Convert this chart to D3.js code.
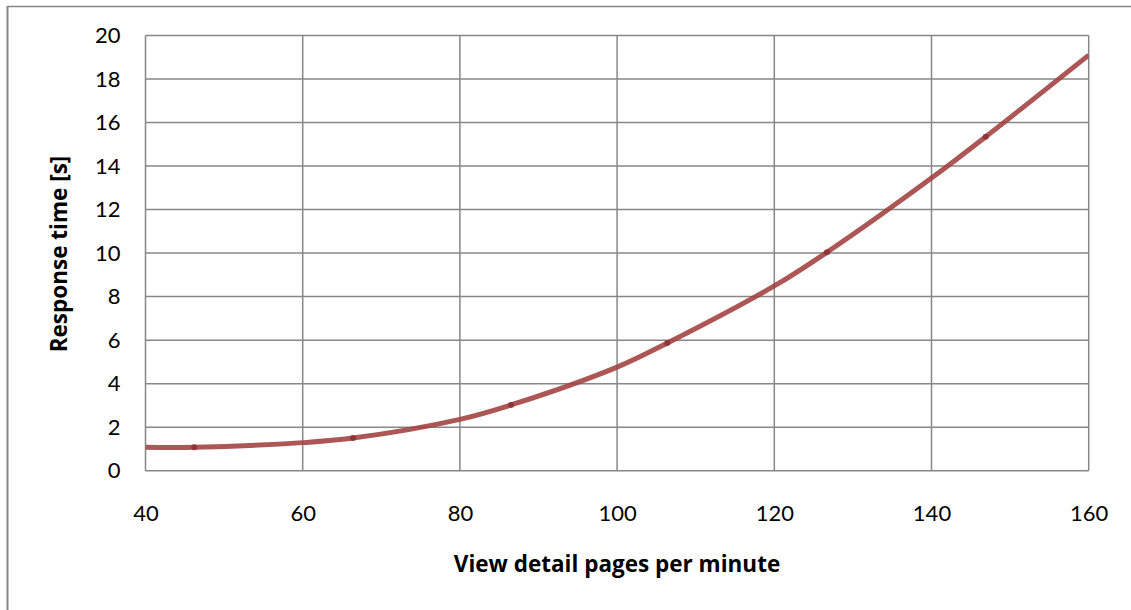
<!DOCTYPE html>
<html>
<head>
<meta charset="utf-8">
<script src="https://cdn.jsdelivr.net/npm/d3@7"></script>
<style>
  html, body { margin: 0; padding: 0; background: #fff; }
  svg { display: block; }
</style>
</head>
<body>
<svg id="chart" width="1131" height="610"></svg>
<script>
// Curve readings (x = view detail pages per minute, y = response time in s)
const curveX = [40, 46.2, 60, 66.4, 80, 86.5, 100, 106.4, 120, 126.7, 140, 146.9, 160];
const curveY = [1.08, 1.08, 1.29, 1.50, 2.36, 3.02, 4.76, 5.87, 8.49, 10.04, 13.45, 15.35, 19.1];
// Measured points (small markers on the line)
const pointX = [46.2, 66.4, 86.5, 106.4, 126.7, 146.9];
const pointY = [1.08, 1.50, 3.02, 5.87, 10.04, 15.35];
// Tick labels
const xTicks = [40, 60, 80, 100, 120, 140, 160];
const yTicks = [0, 2, 4, 6, 8, 10, 12, 14, 16, 18, 20];
const xTitle = "View detail pages per minute";
const yTitle = "Response time [s]";

const svg = d3.select("#chart");
const L = 145.5, R = 1088.7, T = 35.5, B = 470.7;
const x = d3.scaleLinear().domain([40, 160]).range([L, R]);
const y = d3.scaleLinear().domain([0, 20]).range([B, T]);
const gridColor = "#878787";
const font = "Lato, 'Open Sans', sans-serif";
const titleFont = "'Open Sans', Lato, sans-serif";

// outer chart border (top + left visible)
svg.append("line").attr("x1", 7).attr("x2", 1131).attr("y1", 6.5).attr("y2", 6.5)
  .attr("stroke", gridColor).attr("stroke-width", 1.5);
svg.append("line").attr("x1", 7.5).attr("x2", 7.5).attr("y1", 6).attr("y2", 610)
  .attr("stroke", gridColor).attr("stroke-width", 2);

// grid
const grid = svg.append("g");
grid.selectAll("line.h").data(yTicks).join("line")
  .attr("x1", L).attr("x2", R).attr("y1", d => y(d)).attr("y2", d => y(d))
  .attr("stroke", gridColor).attr("stroke-width", 1.5);
grid.selectAll("line.v").data(xTicks).join("line")
  .attr("y1", T).attr("y2", B).attr("x1", d => x(d)).attr("x2", d => x(d))
  .attr("stroke", gridColor).attr("stroke-width", 1.5);

// axes labels via d3 axes
const xAxis = svg.append("g").attr("transform", `translate(0,${B})`)
  .call(d3.axisBottom(x).tickValues(xTicks).tickSize(0).tickPadding(35).tickFormat(d3.format("d")));
xAxis.select(".domain").remove();
xAxis.selectAll("text").attr("font-family", font).attr("font-size", 22).attr("fill", "#000");

const yAxis = svg.append("g").attr("transform", `translate(${L},0)`)
  .call(d3.axisLeft(y).tickValues(yTicks).tickSize(0).tickPadding(25).tickFormat(d3.format("d")));
yAxis.select(".domain").remove();
yAxis.selectAll("text").attr("font-family", font).attr("font-size", 22).attr("fill", "#000");

// titles
svg.append("text").attr("x", 617).attr("y", 572)
  .attr("text-anchor", "middle").attr("font-family", titleFont).attr("font-weight", "bold")
  .attr("font-size", 22.5).attr("fill", "#000").text(xTitle);
svg.append("text").attr("transform", "translate(67,254) rotate(-90)")
  .attr("text-anchor", "middle").attr("font-family", titleFont).attr("font-weight", "bold")
  .attr("font-size", 22.5).attr("fill", "#000").text(yTitle);

// clip
svg.append("clipPath").attr("id", "clip").append("rect")
  .attr("x", L).attr("y", T).attr("width", R - L).attr("height", B - T);

const curveData = curveX.map((v, i) => [v, curveY[i]]);
const line = d3.line().x(d => x(d[0])).y(d => y(d[1])).curve(d3.curveCatmullRom.alpha(0.5));

svg.append("path").datum(curveData).attr("clip-path", "url(#clip)")
  .attr("d", line).attr("fill", "none")
  .attr("stroke", "#a0403e").attr("stroke-opacity", 0.88)
  .attr("stroke-width", 5).attr("stroke-linecap", "butt");

svg.append("g").selectAll("circle").data(pointX.map((v, i) => [v, pointY[i]])).join("circle")
  .attr("cx", d => x(d[0])).attr("cy", d => y(d[1])).attr("r", 3)
  .attr("fill", "#8c2f2f").attr("fill-opacity", 0.85);
</script>
</body>
</html>
